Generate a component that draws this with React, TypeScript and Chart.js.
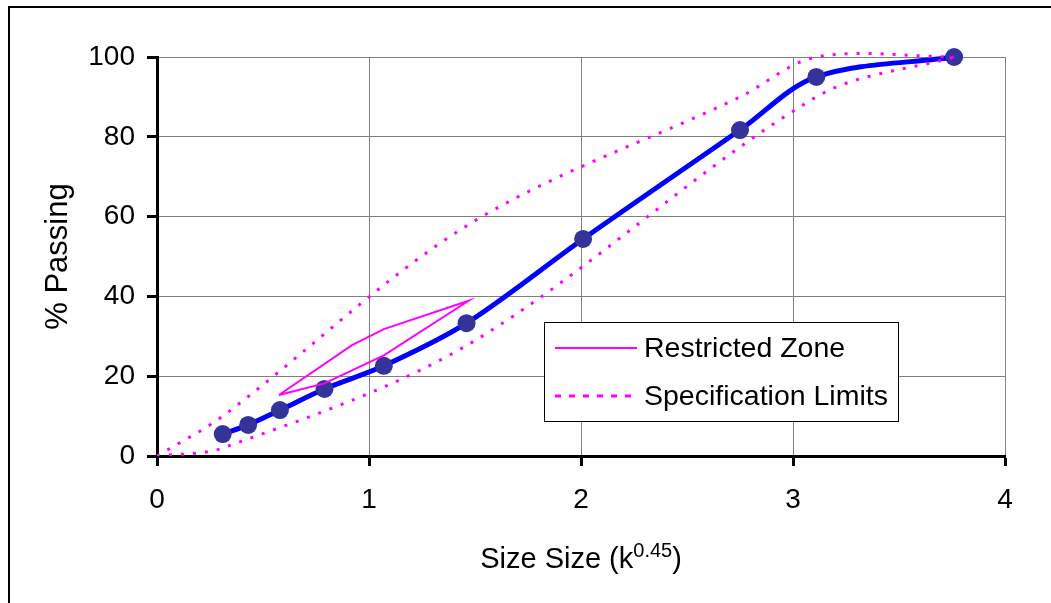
import React, { useEffect, useRef } from 'react';
import { Chart, registerables } from 'chart.js';

Chart.register(...registerables);

// ---- data ----
const gradationX = [0.31, 0.43, 0.58, 0.79, 1.07, 1.46, 2.01, 2.75, 3.11, 3.76];
const gradationY = [5.5, 7.8, 11.5, 16.8, 22.6, 33.3, 54.4, 81.7, 95, 100];

const upperLimitX = [0, 0.31, 1.47, 2.75, 3.11, 3.76];
const upperLimitY = [0, 10, 58, 90, 100, 100];

const lowerLimitX = [0, 0.31, 1.47, 3.11, 3.76];
const lowerLimitY = [0, 2, 28, 90, 100];

const zoneX = [0.575, 0.92, 1.07, 1.47, 1.07, 0.79, 0.575];
const zoneY = [15.3, 27.8, 31.8, 38.9, 25.2, 18.2, 15.3];

const xTickValues = [0, 1, 2, 3, 4];
const yTickValues = [0, 20, 40, 60, 80, 100];

const legendLabels = ['Restricted Zone', 'Specification Limits'];
const yTitle = '% Passing';
const xTitleMain = 'Size Size (k';
const xTitleSup = '0.45';
const xTitleEnd = ')';

const FONT = '"Liberation Sans", Arial, Helvetica, sans-serif';
const MAGENTA = '#FF00FF';

const zip = (xs: number[], ys: number[]) => xs.map((x, i) => ({ x, y: ys[i] }));

const decorPlugin = {
  id: 'decor',
  beforeDraw(chart: any) {
    const ctx = chart.ctx as CanvasRenderingContext2D;
    ctx.save();
    ctx.fillStyle = '#fff';
    ctx.fillRect(0, 0, chart.width, chart.height);
    ctx.strokeStyle = '#000';
    ctx.lineWidth = 2;
    ctx.beginPath();
    ctx.moveTo(9, chart.height + 5);
    ctx.lineTo(9, 7);
    ctx.lineTo(chart.width + 5, 7);
    ctx.stroke();
    ctx.restore();
  },
  afterDraw(chart: any) {
    const ctx = chart.ctx as CanvasRenderingContext2D;
    const area = chart.chartArea;
    ctx.save();
    // y title
    ctx.fillStyle = '#000';
    ctx.font = `31px ${FONT}`;
    ctx.textAlign = 'center';
    ctx.textBaseline = 'middle';
    ctx.translate(58, (area.top + area.bottom) / 2);
    ctx.rotate(-Math.PI / 2);
    ctx.fillText(yTitle, 0, 0);
    ctx.setTransform(1, 0, 0, 1, 0, 0);

    // x title with superscript
    ctx.textAlign = 'left';
    ctx.textBaseline = 'alphabetic';
    const mainFont = `29px ${FONT}`;
    const supFont = `20px ${FONT}`;
    ctx.font = mainFont;
    const w1 = ctx.measureText(xTitleMain).width;
    const w3 = ctx.measureText(xTitleEnd).width;
    ctx.font = supFont;
    const w2 = ctx.measureText(xTitleSup).width;
    const total = w1 + w2 + w3;
    let x = (area.left + area.right) / 2 - total / 2;
    const base = 568;
    ctx.font = mainFont;
    ctx.fillText(xTitleMain, x, base);
    x += w1;
    ctx.font = supFont;
    ctx.fillText(xTitleSup, x, base - 11);
    x += w2;
    ctx.font = mainFont;
    ctx.fillText(xTitleEnd, x, base);

    // legend
    const bx = 544, by = 322, bw = 354, bh = 99;
    ctx.fillStyle = '#fff';
    ctx.fillRect(bx, by, bw, bh);
    ctx.strokeStyle = '#000';
    ctx.lineWidth = 1;
    ctx.strokeRect(bx + 0.5, by + 0.5, bw, bh);
    const rows = [348, 396];
    ctx.strokeStyle = MAGENTA;
    ctx.lineWidth = 2;
    ctx.setLineDash([]);
    ctx.beginPath();
    ctx.moveTo(555, rows[0]);
    ctx.lineTo(637, rows[0]);
    ctx.stroke();
    ctx.lineWidth = 3;
    ctx.setLineDash([6, 8]);
    ctx.beginPath();
    ctx.moveTo(555, rows[1]);
    ctx.lineTo(637, rows[1]);
    ctx.stroke();
    ctx.setLineDash([]);
    ctx.fillStyle = '#000';
    ctx.font = `28.5px ${FONT}`;
    ctx.textBaseline = 'middle';
    ctx.textAlign = 'left';
    ctx.fillText(legendLabels[0], 644, rows[0] + 1);
    ctx.fillText(legendLabels[1], 644, rows[1] + 1);
    ctx.restore();
  },
};

export default function App() {
  const ref = useRef<HTMLCanvasElement | null>(null);
  useEffect(() => {
    if (!ref.current) return;
    const chart = new Chart(ref.current, {
      type: 'scatter',
      data: {
        datasets: [
          {
            label: legendLabels[0],
            data: zip(zoneX, zoneY),
            showLine: true,
            borderColor: MAGENTA,
            borderWidth: 2,
            pointRadius: 0,
            tension: 0,
          },
          {
            label: legendLabels[1],
            data: zip(upperLimitX, upperLimitY),
            showLine: true,
            borderColor: MAGENTA,
            borderWidth: 3,
            borderDash: [3, 9],
            pointRadius: 0,
            tension: 0.33,
            capBezierPoints: false,
            clip: { left: 0, top: 6, right: 0, bottom: 0 },
          },
          {
            label: 'lower',
            data: zip(lowerLimitX, lowerLimitY),
            showLine: true,
            borderColor: MAGENTA,
            borderWidth: 3,
            borderDash: [3, 9],
            pointRadius: 0,
            tension: 0.33,
            capBezierPoints: false,
            clip: { left: 0, top: 6, right: 0, bottom: 0 },
          },
          {
            label: 'gradation',
            data: zip(gradationX, gradationY),
            showLine: true,
            borderColor: '#0000FF',
            borderWidth: 5,
            pointRadius: 9,
            pointBackgroundColor: '#333399',
            pointBorderColor: '#333399',
            pointBorderWidth: 0,
            tension: 0.33,
            capBezierPoints: false,
            clip: 12,
          },
        ] as any,
      },
      options: {
        responsive: false,
        animation: false,
        events: [],
        layout: { padding: { left: 0, top: 57, right: 46, bottom: 0 } },
        plugins: { legend: { display: false }, tooltip: { enabled: false } },
        scales: {
          x: {
            type: 'linear',
            min: 0,
            max: 4,
            afterFit: (s: any) => { s.height = 147; },
            afterBuildTicks: (s: any) => { s.ticks = xTickValues.map((v) => ({ value: v })); },
            ticks: { color: '#000', font: { size: 28, family: FONT }, padding: 17 },
            grid: { color: '#808080', lineWidth: 1, tickColor: '#000', tickWidth: 3, tickLength: 10 },
            border: { color: '#000', width: 3 },
          },
          y: {
            type: 'linear',
            min: 0,
            max: 100,
            afterFit: (s: any) => { s.width = 157; },
            afterBuildTicks: (s: any) => { s.ticks = yTickValues.map((v) => ({ value: v })); },
            ticks: { color: '#000', font: { size: 28, family: FONT }, padding: 12 },
            grid: { color: '#808080', lineWidth: 1, tickColor: '#000', tickWidth: 3, tickLength: 10 },
            border: { color: '#000', width: 3 },
          },
        },
      } as any,
      plugins: [decorPlugin],
    });
    return () => chart.destroy();
  }, []);
  return (
    <div style={{ position: 'absolute', left: 0, top: 0, width: 1051, height: 603 }}>
      <canvas ref={ref} width={1051} height={603} style={{ display: 'block' }} />
    </div>
  );
}
